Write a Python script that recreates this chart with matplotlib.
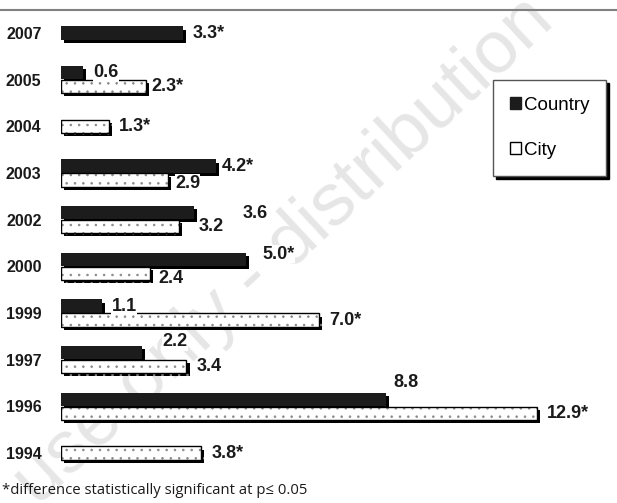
import matplotlib
matplotlib.use('Agg')
import matplotlib.pyplot as plt
import matplotlib.patheffects as pe
from matplotlib.patches import Patch
from matplotlib.lines import Line2D

# data (top to bottom)
years = ['2007', '2005', '2004', '2003', '2002', '2000', '1999', '1997', '1996', '1994']
country = [3.3, 0.6, None, 4.2, 3.6, 5.0, 1.1, 2.2, 8.8, None]
city = [None, 2.3, 1.3, 2.9, 3.2, 2.4, 7.0, 3.4, 12.9, 3.8]
country_sig = [True, False, False, True, False, True, False, False, False, False]
city_sig = [False, True, True, False, False, False, True, False, True, True]

# label nudges in pixels (dx right, dy up) where the original placed them oddly
country_nudge = {'2003': (6, 0), '2002': (49, -1), '2000': (17, 5), '1997': (20, 11), '1996': (8, 17)}
city_nudge = {'2005': (6, 0), '2003': (7, -3), '2002': (20, 0), '2000': (9, -5)}

plt.rcParams['font.family'] = ['Liberation Sans', 'DejaVu Sans']
plt.rcParams['hatch.linewidth'] = 0.6

W, H = 617, 503
fig = plt.figure(figsize=(W / 100, H / 100), dpi=100)
fig.patch.set_facecolor('white')

# faint watermark, behind everything
fig.text(0.46, 0.50, 'use only - distribution', rotation=43, fontsize=54,
         color='#e6e6e6', ha='center', va='center', zorder=-5)

ax = fig.add_axes([61 / W, 0, (W - 61) / W, 1])
ax.patch.set_alpha(0)
px_per_unit = 36.9
row = 46.67
ax.set_xlim(0, (W - 61) / px_per_unit)
ax.set_ylim((H - 33) / row, -33 / row)

BLACK = '#1c1c1c'
h = 0.28
shadow = [pe.SimplePatchShadow(offset=(2.2, -2.2), shadow_rgbFace='black', alpha=1.0), pe.Normal()]


def label(x, y, txt, nudge):
    dx, dy = nudge
    ax.annotate(txt, xy=(x, y), xytext=(dx, dy), textcoords='offset pixels',
                ha='left', va='center', fontsize=13, fontweight='bold', color='#1a1a1a',
                bbox=dict(facecolor='white', edgecolor='none', pad=0.3), zorder=5)


for i, yr in enumerate(years):
    c, t = country[i], city[i]
    both = c is not None and t is not None
    if c is not None:
        y = i - 0.15 if both else i
        ax.barh(y, c, height=h, color=BLACK, edgecolor='none', zorder=3, path_effects=shadow)
        label(c, y, f'{c:.1f}' + ('*' if country_sig[i] else ''), country_nudge.get(yr, (10, 0)))
    if t is not None:
        y = i + 0.15 if both else i
        ax.barh(y, t, height=h, color='white', edgecolor='#8a8a8a', linewidth=0,
                hatch='..', zorder=3, path_effects=shadow)
        ax.barh(y, t, height=h, fill=False, edgecolor='black', linewidth=1.0, zorder=4)
        label(t, y, f'{t:.1f}' + ('*' if city_sig[i] else ''), city_nudge.get(yr, (10, 0)))

ax.set_yticks(range(len(years)))
ax.set_yticklabels(years, fontsize=11.5, fontweight='bold', color='#1a1a1a')
ax.tick_params(axis='y', length=0, pad=14)
ax.set_xticks([])
for s in ax.spines.values():
    s.set_visible(False)

# rule across the top
fig.add_artist(Line2D([0, 1], [1 - 10 / H] * 2, color='#808080', lw=1.5,
                      transform=fig.transFigure))

handles = [Patch(facecolor=BLACK, edgecolor=BLACK),
           Patch(facecolor='white', edgecolor='black', hatch='.', linewidth=1)]
leg = fig.legend(handles, ['Country', 'City'], loc='upper left',
                 bbox_to_anchor=(493 / W, 1 - 80 / H), fancybox=False,
                 shadow={'color': 'black', 'alpha': 1}, framealpha=1,
                 fontsize=13.5, handlelength=0.6, handleheight=0.6, handletextpad=0.15,
                 labelspacing=1.5, borderpad=0.9, borderaxespad=0, edgecolor='#555555')
leg.get_frame().set_linewidth(1)

fig.text(2 / W, 1 - 490 / H, '*difference statistically significant at p\u2264 0.05',
         fontsize=10.7, family=['Open Sans', 'DejaVu Sans'], va='center', color='#1a1a1a')

fig.savefig('out.png', dpi=100)
